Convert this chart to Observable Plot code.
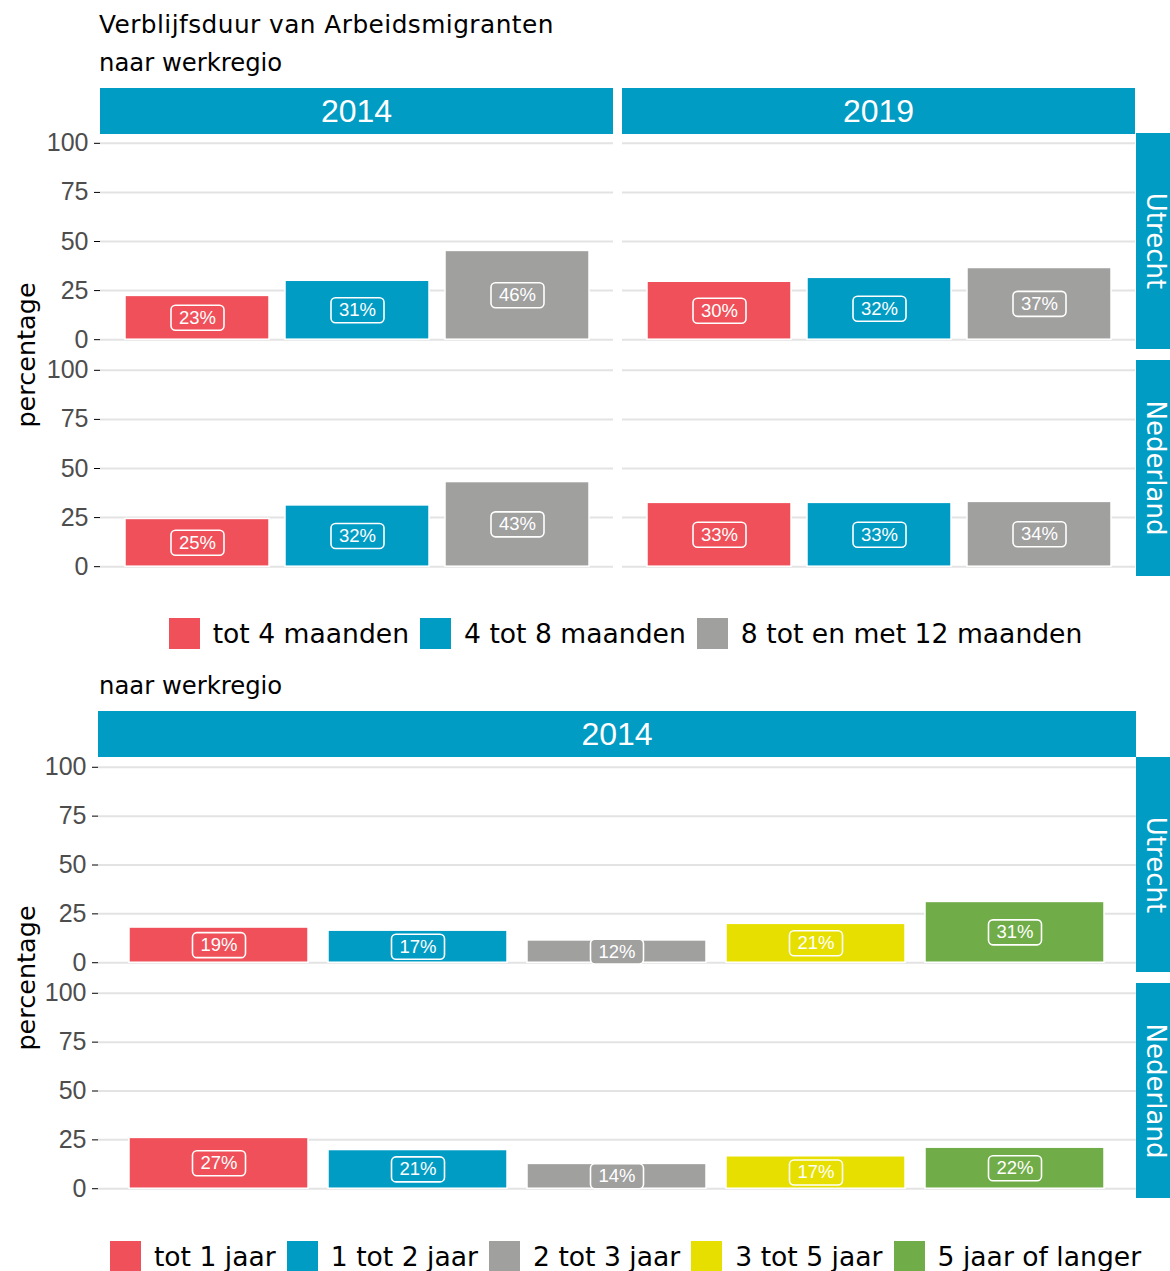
<!DOCTYPE html>
<html>
<head>
<meta charset="utf-8">
<script src="https://cdn.jsdelivr.net/npm/d3@7"></script>
<script src="https://cdn.jsdelivr.net/npm/@observablehq/plot@0.6"></script>
<style>
  body { margin: 0; background: #fff; }
  #root { position: relative; width: 1170px; height: 1271px; overflow: hidden; background: #fff; }
  .txt { position: absolute; font-family: "DejaVu Sans", sans-serif; color: #000; white-space: nowrap; line-height: 1; }
  .strip { position: absolute; background: #009CC4; color: #fff; display: flex; align-items: center; justify-content: center; white-space: nowrap; overflow: hidden; }
  .strip.top { font-family: "Liberation Sans", sans-serif; font-size: 32px; }
  .strip.side span { display: inline-block; transform: rotate(90deg); font-family: "DejaVu Sans", sans-serif; font-size: 26px; line-height: 1; }
  .ylab { position: absolute; width: 0; height: 0; }
  .ylab span { position: absolute; left: 0; top: 0; transform: translate(-50%, -50%) rotate(-90deg); font-family: "DejaVu Sans", sans-serif; font-size: 25.5px; white-space: nowrap; color: #000; line-height: 1; }
  .legend { position: absolute; display: flex; justify-content: center; align-items: center; font-family: "DejaVu Sans", sans-serif; font-size: 26.6px; color: #000; white-space: nowrap; }
  .legend .sw { width: 31px; height: 31px; margin-right: 13px; flex: none; }
  .legend .lab { margin-right: 11px; }
  .plotbox { position: absolute; left: 0; }
  .plotbox svg g[aria-label="y-axis tick"] { stroke: #333; }
  .plotbox svg g[aria-label="y-axis tick label"] { fill: #4D4D4D; }
</style>
</head>
<body>
<div id="root"></div>
<script>
// ---------- data ----------
const years = ["2014", "2019"];
const regions = ["Utrecht", "Nederland"];

const monthCats = ["tot 4 maanden", "4 tot 8 maanden", "8 tot en met 12 maanden"];
const monthColors = ["#EF5059", "#009CC4", "#A0A09F"];
// bar heights (percentage)
const utrecht2014Months = [22.3, 30.0, 45.2];
const utrecht2019Months = [29.5, 31.5, 36.5];
const nederland2014Months = [24.3, 31.2, 43.1];
const nederland2019Months = [32.5, 32.5, 33.0];
// printed labels
const utrecht2014MonthLabels = [23, 31, 46];
const utrecht2019MonthLabels = [30, 32, 37];
const nederland2014MonthLabels = [25, 32, 43];
const nederland2019MonthLabels = [33, 33, 34];

const yearCats = ["tot 1 jaar", "1 tot 2 jaar", "2 tot 3 jaar", "3 tot 5 jaar", "5 jaar of langer"];
const yearColors = ["#EF5059", "#009CC4", "#A0A09F", "#E6DF00", "#70AC47"];
const utrecht2014Years = [18.0, 16.4, 11.4, 19.9, 31.1];
const nederland2014Years = [26.0, 19.8, 12.7, 16.6, 21.0];
const utrecht2014YearLabels = [19, 17, 12, 21, 31];
const nederland2014YearLabels = [27, 21, 14, 17, 22];

const yTicks = [0, 25, 50, 75, 100];

// ---------- tables ----------
function rows(year, region, cats, values, labels) {
  return cats.map((cat, i) => ({year, region, cat, value: values[i], label: labels[i]}));
}
const monthData = [
  ...rows("2014", "Utrecht", monthCats, utrecht2014Months, utrecht2014MonthLabels),
  ...rows("2019", "Utrecht", monthCats, utrecht2019Months, utrecht2019MonthLabels),
  ...rows("2014", "Nederland", monthCats, nederland2014Months, nederland2014MonthLabels),
  ...rows("2019", "Nederland", monthCats, nederland2019Months, nederland2019MonthLabels)
];
const yearData = [
  ...rows("2014", "Utrecht", yearCats, utrecht2014Years, utrecht2014YearLabels),
  ...rows("2014", "Nederland", yearCats, nederland2014Years, nederland2014YearLabels)
];

const root = document.getElementById("root");
function addDiv(cls, style, html) {
  const d = document.createElement("div");
  d.className = cls;
  Object.assign(d.style, style);
  if (html != null) d.innerHTML = html;
  root.appendChild(d);
  return d;
}

// rounded label boxes behind text (like geom_label)
function labelRender(data, cats, colors) {
  const colorOf = new Map(cats.map((c, i) => [c, colors[i]]));
  return function (index, scales, values, dimensions, context, next) {
    const g = next(index, scales, values, dimensions, context);
    const ns = "http://www.w3.org/2000/svg";
    const first = g.firstChild;
    for (const i of index) {
      const r = document.createElementNS(ns, "rect");
      const w = 53, h = 25;
      r.setAttribute("x", values.x[i] - w / 2);
      r.setAttribute("y", values.y[i] - h / 2);
      r.setAttribute("width", w);
      r.setAttribute("height", h);
      r.setAttribute("rx", 4.5);
      r.setAttribute("fill", colorOf.get(data[i].cat));
      r.setAttribute("stroke", "#fff");
      r.setAttribute("stroke-width", 1.6);
      g.insertBefore(r, first);
    }
    return g;
  };
}

function makePlot(data, cats, colors, fxDomain, opts) {
  const marks = [
    Plot.gridY(yTicks, {stroke: "#E3E3E3", strokeOpacity: 1, strokeWidth: 2}),
    Plot.axisY(yTicks, {tickSize: 6, tickPadding: 6, fontSize: 25, label: null}),
    Plot.barY(data, {fx: fxDomain ? "year" : undefined, fy: "region", x: "cat", y: "value", fill: "cat", stroke: "#fff", strokeWidth: 1.5}),
    Plot.text(data, Plot.stackY({
      fx: fxDomain ? "year" : undefined, fy: "region", x: "cat", y: "value",
      text: d => d.label + "%", fill: "#fff", fontSize: 18.5, fontFamily: "Liberation Sans",
      render: labelRender(data, cats, colors)
    }))
  ];
  const cfg = {
    width: 1170, height: opts.height,
    marginTop: opts.marginTop, marginBottom: opts.marginBottom,
    marginLeft: opts.marginLeft, marginRight: opts.marginRight,
    style: {fontFamily: "Liberation Sans", fontSize: "25px", background: "transparent", overflow: "visible"},
    fy: {domain: regions, axis: null, paddingInner: 0.05, paddingOuter: 0},
    x: {domain: cats, axis: null, paddingInner: 0.1, paddingOuter: 0.15},
    y: {domain: [-5, 105], axis: null, label: null},
    color: {domain: cats, range: colors},
    marks
  };
  if (fxDomain) cfg.fx = {domain: fxDomain, axis: null, paddingInner: 0.0172, paddingOuter: 0};
  return Plot.plot(cfg);
}

function legend(cats, colors, top) {
  const html = cats.map((c, i) => `<div class="sw" style="background:${colors[i]}"></div><div class="lab">${c}</div>`).join("");
  addDiv("legend", {left: "92px", width: "1078px", top: top + "px", height: "31px"}, html);
}

// ---------- titles ----------
addDiv("txt", {left: "99px", top: "13px", fontSize: "24.8px", letterSpacing: "0.45px"}, "Verblijfsduur van Arbeidsmigranten");
addDiv("txt", {left: "99px", top: "51px", fontSize: "24.3px"}, "naar werkregio");

// ---------- top chart ----------
const topY = 88;
const p1 = makePlot(monthData, monthCats, monthColors, years, {height: 500, marginTop: 45, marginBottom: 12, marginLeft: 99, marginRight: 34});
const box1 = addDiv("plotbox", {top: topY + "px"});
box1.appendChild(p1);
{
  const fx = p1.scale("fx"), fy = p1.scale("fy");
  for (const yv of years) {
    addDiv("strip top", {left: fx.apply(yv) + "px", width: fx.bandwidth + "px", top: topY + "px", height: "46px"}, yv);
  }
  for (const r of regions) {
    addDiv("strip side", {left: "1136px", width: "40px", top: (topY + fy.apply(r)) + "px", height: fy.bandwidth + "px"}, `<span>${r}</span>`);
  }
  addDiv("ylab", {left: "27px", top: (topY + fy.apply(regions[0]) + (fy.apply(regions[1]) + fy.bandwidth - fy.apply(regions[0])) / 2) + "px"}, "<span>percentage</span>");
}
legend(monthCats, monthColors, 618);

// ---------- bottom chart ----------
addDiv("txt", {left: "99px", top: "674px", fontSize: "24.3px"}, "naar werkregio");
const botY = 711;
const p2 = makePlot(yearData, yearCats, yearColors, null, {height: 500, marginTop: 45, marginBottom: 13, marginLeft: 98, marginRight: 34});
const box2 = addDiv("plotbox", {top: botY + "px"});
box2.appendChild(p2);
{
  const fy = p2.scale("fy");
  addDiv("strip top", {left: "98px", width: (1136 - 98) + "px", top: botY + "px", height: "46px"}, "2014");
  for (const r of regions) {
    addDiv("strip side", {left: "1136px", width: "40px", top: (botY + fy.apply(r)) + "px", height: fy.bandwidth + "px"}, `<span>${r}</span>`);
  }
  addDiv("ylab", {left: "27px", top: (botY + fy.apply(regions[0]) + (fy.apply(regions[1]) + fy.bandwidth - fy.apply(regions[0])) / 2) + "px"}, "<span>percentage</span>");
}
legend(yearCats, yearColors, 1241);
</script>
</body>
</html>
